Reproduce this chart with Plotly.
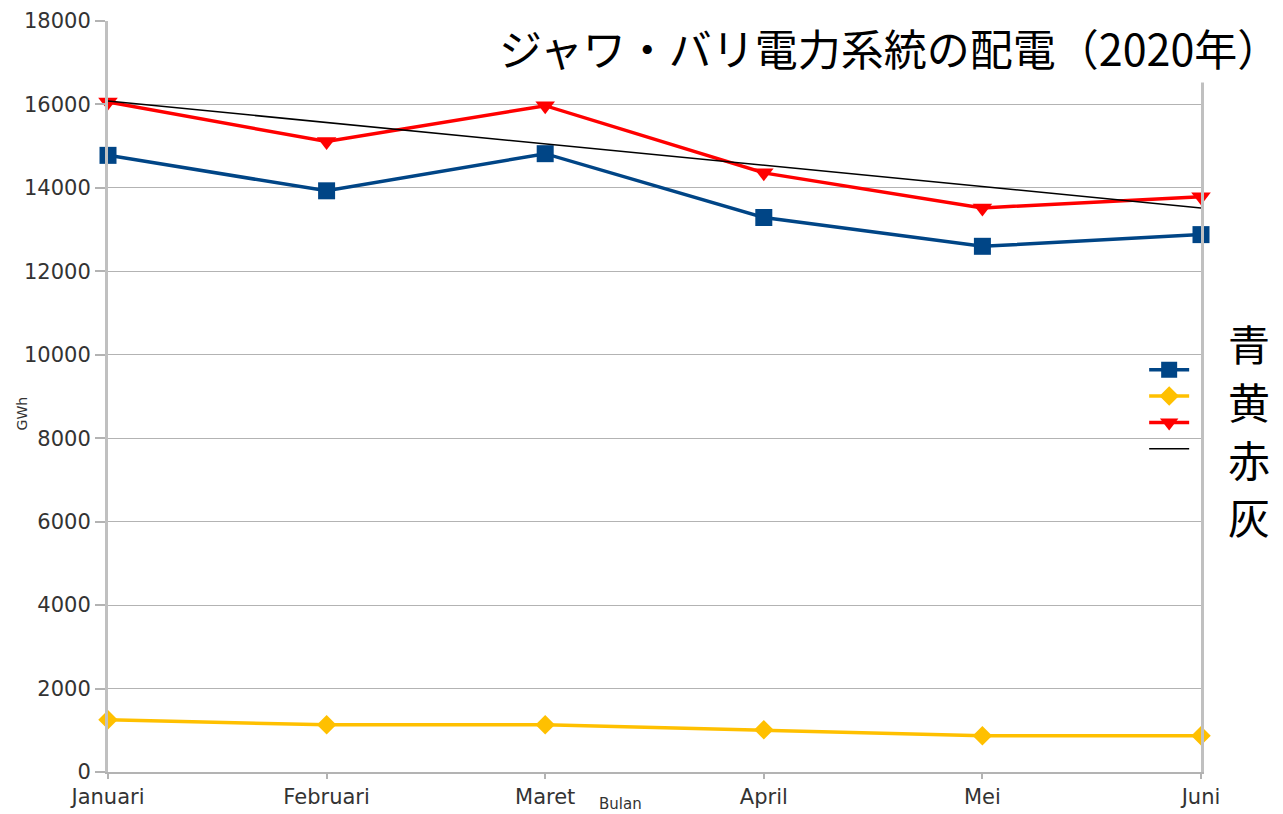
import plotly.graph_objects as go

months = ["Januari", "Februari", "Maret", "April", "Mei", "Juni"]
blue_vals = [14780, 13930, 14820, 13290, 12600, 12880]
yellow_vals = [1250, 1130, 1130, 1010, 870, 870]
red_vals = [16060, 15110, 15970, 14360, 13520, 13790]
trend_months = ["Januari", "Juni"]
trend_vals = [16080, 13520]
y_ticks = [0, 2000, 4000, 6000, 8000, 10000, 12000, 14000, 16000, 18000]
legend_labels = ["青：", "黄：", "赤：", "灰："]
title_text = "ジャワ・バリ電力系統の配電（2020年）"

fig = go.Figure()
fig.add_trace(go.Scatter(x=months, y=blue_vals, mode="lines+markers", name="",
                         line=dict(color="#004586", width=3.5),
                         marker=dict(symbol="square", size=17, color="#004586"),
                         cliponaxis=False))
fig.add_trace(go.Scatter(x=months, y=yellow_vals, mode="lines+markers", name="",
                         line=dict(color="#ffc000", width=3.5),
                         marker=dict(symbol="diamond", size=15, color="#ffc000"),
                         cliponaxis=False))
fig.add_trace(go.Scatter(x=months, y=red_vals, mode="lines+markers", name="",
                         line=dict(color="#ff0000", width=3.5),
                         marker=dict(symbol="triangle-down", size=17, color="#ff0000"),
                         cliponaxis=False))
fig.add_trace(go.Scatter(x=trend_months, y=trend_vals, mode="lines", name="",
                         line=dict(color="#000000", width=1.5),
                         cliponaxis=False))

axis_font = dict(family="DejaVu Sans, sans-serif", size=21, color="#333333")

# page has an 8px body margin, so the figure is shifted by (8, 8) in the window
fig.update_layout(
    width=1275, height=806,
    margin=dict(l=100, r=82, t=13, b=42, autoexpand=False),
    paper_bgcolor="white", plot_bgcolor="white",
    showlegend=True,
    legend=dict(x=0.948, y=0.56, xanchor="left", yanchor="top",
                bgcolor="rgba(0,0,0,0)", font=dict(size=18), itemwidth=40,
                tracegroupgap=0),
    xaxis=dict(range=[0, 5], showgrid=False, showline=True, linecolor="#b3b3b3",
               linewidth=2, ticks="outside", ticklen=5, tickcolor="#b3b3b3",
               tickwidth=2, tickfont=axis_font, zeroline=False, automargin=False),
    yaxis=dict(range=[0, 18000], tickvals=y_ticks, tickformat="d", showgrid=True,
               gridcolor="#b3b3b3", gridwidth=1, showline=True, mirror=True,
               linecolor="#c0c0c0", linewidth=3, ticks="outside", ticklen=10,
               tickcolor="#b3b3b3", tickwidth=2, tickfont=axis_font,
               zeroline=False, automargin=False),
)

annotations = [
    dict(text=title_text, xref="paper", yref="paper", x=(494 - 108) / 1093, y=1.0133,
         xanchor="left", yanchor="top", showarrow=False, bgcolor="white",
         borderpad=4,
         font=dict(family="Noto Sans CJK JP", size=43, color="black")),
    dict(text="GWh", xref="paper", yref="paper", x=-0.079, y=0.477,
         xanchor="center", yanchor="middle", textangle=-90, showarrow=False,
         font=dict(family="DejaVu Sans, sans-serif", size=14, color="#333333")),
    dict(text="Bulan", xref="paper", yref="paper", x=0.4685, y=-0.0426,
         xanchor="center", yanchor="middle", showarrow=False,
         font=dict(family="DejaVu Sans, sans-serif", size=15, color="#333333")),
]
label_y = [343, 400, 458, 515]
for lab, py in zip(legend_labels, label_y):
    annotations.append(dict(text=lab, xref="paper", yref="paper",
                            x=(1226 - 108) / 1093, y=(772 - py) / 751,
                            xanchor="left", yanchor="middle", showarrow=False,
                            font=dict(family="Noto Sans CJK JP", size=42, color="black")))
fig.update_layout(annotations=annotations)

fig.write_html("out.html")
